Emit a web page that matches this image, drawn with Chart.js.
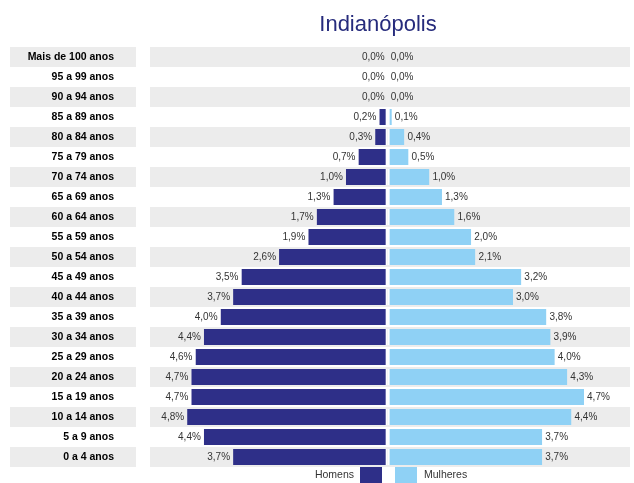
<!DOCTYPE html>
<html>
<head>
<meta charset="utf-8">
<script src="https://cdn.jsdelivr.net/npm/chart.js@4.4.1/dist/chart.umd.min.js"></script>
<style>
  body { margin: 0; background: #fff; }
  #wrap { width: 634px; height: 483px; position: relative; }
</style>
</head>
<body>
<div id="wrap"><canvas id="pyramidChart"></canvas></div>
<script>
// piramide etaria - Indianopolis

const ageGroups = [
  "Mais de 100 anos", "95 a 99 anos", "90 a 94 anos", "85 a 89 anos",
  "80 a 84 anos", "75 a 79 anos", "70 a 74 anos", "65 a 69 anos",
  "60 a 64 anos", "55 a 59 anos", "50 a 54 anos", "45 a 49 anos",
  "40 a 44 anos", "35 a 39 anos", "30 a 34 anos", "25 a 29 anos",
  "20 a 24 anos", "15 a 19 anos", "10 a 14 anos", "5 a 9 anos", "0 a 4 anos",
];
const menPct = [0.0, 0.0, 0.0, 0.2, 0.3, 0.7, 1.0, 1.3, 1.7, 1.9, 2.6, 3.5, 3.7, 4.0, 4.4, 4.6, 4.7, 4.7, 4.8, 4.4, 3.7];
const womenPct = [0.0, 0.0, 0.0, 0.1, 0.4, 0.5, 1.0, 1.3, 1.6, 2.0, 2.1, 3.2, 3.0, 3.8, 3.9, 4.0, 4.3, 4.7, 4.4, 3.7, 3.7];
const seriesNames = ["Homens", "Mulheres"];
const chartTitle = "Indianópolis";

const menColor = "#2e2f88";
const womenColor = "#8fd1f5";

const fmt = (v) => Math.abs(v).toFixed(1).replace(".", ",") + "%";

// stripes behind rows + title
const stripes = {
  id: "stripes",
  beforeDraw(chart) {
    const { ctx, chartArea, scales: { y } } = chart;
    ctx.save();
    ctx.fillStyle = "#ececec";
    ageGroups.forEach((g, i) => {
      if (i % 2 !== 0) return;
      const py = y.getPixelForValue(i);
      ctx.fillRect(10, py - 10, 126, 20);
      ctx.fillRect(150, py - 10, chartArea.right - 150, 20);
    });
    ctx.fillStyle = "#262b7c";
    ctx.font = "22px Arial, 'Liberation Sans'";
    ctx.textAlign = "center";
    ctx.textBaseline = "middle";
    ctx.fillText(chartTitle, 378, 25);
    ctx.restore();
  },
};

// percent labels next to bars
const valueLabels = {
  id: "valueLabels",
  afterDatasetsDraw(chart) {
    const { ctx } = chart;
    ctx.save();
    ctx.font = "10px Arial, 'Liberation Sans'";
    ctx.fillStyle = "#333";
    ctx.textBaseline = "middle";
    chart.data.datasets.forEach((ds, di) => {
      const meta = chart.getDatasetMeta(di);
      meta.data.forEach((bar, i) => {
        const v = ds.data[i];
        if (di === 0) {
          ctx.textAlign = "right";
          ctx.fillText(fmt(v), Math.min(bar.x, bar.base) - 3, bar.y);
        } else {
          ctx.textAlign = "left";
          ctx.fillText(fmt(v), Math.max(bar.x, bar.base) + 3, bar.y);
        }
      });
    });
    ctx.restore();
  },
};

// legend: text - box | box - text
const legendBoxes = {
  id: "legendBoxes",
  afterDraw(chart) {
    const { ctx } = chart;
    ctx.save();
    ctx.font = "10.5px Arial, 'Liberation Sans'";
    ctx.fillStyle = "#333";
    ctx.textBaseline = "middle";
    ctx.textAlign = "right";
    ctx.fillText(seriesNames[0], 354, 475);
    ctx.fillStyle = menColor;
    ctx.fillRect(360, 467, 22, 16);
    ctx.fillStyle = womenColor;
    ctx.fillRect(395, 467, 22, 16);
    ctx.fillStyle = "#333";
    ctx.textAlign = "left";
    ctx.fillText(seriesNames[1], 424, 475);
    ctx.restore();
  },
};

var ctx = document.getElementById("pyramidChart");

var myChart = new Chart(ctx, {
  type: "bar",
  data: {
    labels: ageGroups,
    datasets: [
      {
        label: seriesNames[0],
        data: menPct.map((v) => -v),
        backgroundColor: menColor,
        borderColor: "#fff",
        borderWidth: { left: 0, right: 2, top: 0, bottom: 0 },
        borderSkipped: false,
      },
      {
        label: seriesNames[1],
        data: womenPct,
        backgroundColor: womenColor,
        borderColor: "#fff",
        borderWidth: { left: 2, right: 0, top: 0, bottom: 0 },
        borderSkipped: false,
      },
    ],
  },
  options: {
    indexAxis: "y",
    responsive: true,
    maintainAspectRatio: false,
    animation: false,
    categoryPercentage: 1,
    barPercentage: 0.8,
    layout: {
      padding: { top: 47, bottom: 16, left: 0, right: 4 },
    },
    scales: {
      x: {
        display: false,
        stacked: true,
        min: -6.55,
        max: 5.8,
      },
      y: {
        stacked: true,
        grid: { display: false, drawTicks: false },
        border: { display: false },
        ticks: {
          color: "#000",
          padding: 0,
          font: { family: "Arial, 'Liberation Sans'", size: 10.5, weight: "bold" },
        },
        afterFit(scale) {
          scale.width = 114;
        },
      },
    },
    plugins: {
      legend: { display: false },
      tooltip: { enabled: false },
    },
  },
  plugins: [stripes, valueLabels, legendBoxes],
});
</script>
</body>
</html>
